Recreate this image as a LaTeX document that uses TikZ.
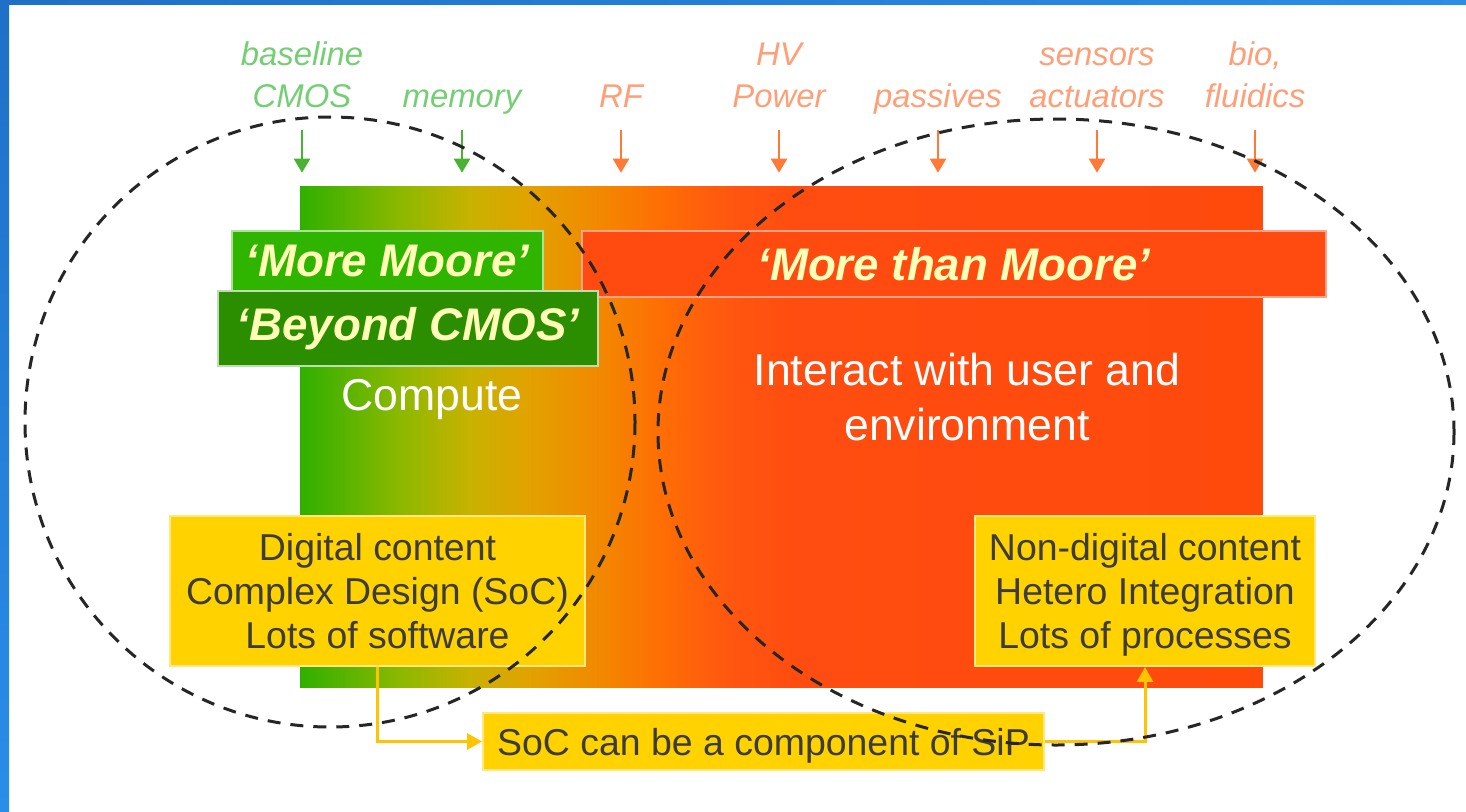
\documentclass[tikz,border=0pt]{standalone}
\usepackage{fontspec}
\setmainfont{Liberation Sans}
\usetikzlibrary{arrows.meta}
\definecolor{framebl}{HTML}{2A8DE8}
\definecolor{framedk}{HTML}{1F70C6}
\definecolor{g0}{HTML}{30B000}
\definecolor{g1}{HTML}{8CB800}
\definecolor{g2}{HTML}{C8B200}
\definecolor{g3}{HTML}{E2A200}
\definecolor{g4}{HTML}{F28800}
\definecolor{g5}{HTML}{FF6E04}
\definecolor{g6}{HTML}{FF5610}
\definecolor{g7}{HTML}{FF4C10}
\definecolor{g8}{HTML}{FF4A0C}
\definecolor{mmgreen}{HTML}{2FB400}
\definecolor{bcgreen}{HTML}{2A8E00}
\definecolor{mtmred}{HTML}{FF4A10}
\definecolor{cream}{HTML}{FFFFB8}
\definecolor{boxgold}{HTML}{FFD200}
\definecolor{txtgrey}{HTML}{3C3C3C}
\definecolor{lblgreen}{HTML}{74CF74}
\definecolor{lblorange}{HTML}{FF9F78}
\definecolor{tipgreen}{HTML}{48B232}
\definecolor{tiporange}{HTML}{FF7A36}
\definecolor{linkgold}{HTML}{FFC400}
\pgfdeclarehorizontalshading{mooreshade}{100bp}{color(0bp)=(g0); color(25bp)=(g0);
  color(30.2bp)=(g1); color(33.8bp)=(g2); color(36.9bp)=(g3); color(40.6bp)=(g4);
  color(43.7bp)=(g5); color(47.3bp)=(g6); color(51bp)=(g7); color(75bp)=(g8);
  color(100bp)=(g8)}
\tikzset{
  lbl/.style = {font=\fontsize{18.7}{23.8}\selectfont\itshape, align=center,
    inner sep=0pt, text depth=0pt, anchor=south},
  lbl_g/.style = {lbl, text=lblgreen},% tech label, green
  lbl_o/.style = {lbl, text=lblorange},% tech label, orange
  tip/.style = {-{Triangle[length=0.28cm,width=0.32cm]}, line width=0.05cm,
    shorten <=0.44cm, shorten >=0.26cm},
  tip_g/.style = {tip, color=tipgreen},
  tip_o/.style = {tip, color=tiporange},
  bar_n/.style = {rectangle, inner sep=0pt, minimum width=19.26cm,
    minimum height=10.04cm, shade, shading=mooreshade},% the big band
  tag/.style = {rectangle, inner sep=0pt, line width=0.04cm, text=cream,
    font=\fontsize{26}{30}\selectfont\bfseries\itshape},
  mm_box/.style = {tag, fill=mmgreen, draw=mmgreen!40!white,
    minimum width=6.22cm, minimum height=1.2cm},
  bc_box/.style = {tag, fill=bcgreen, draw=bcgreen!30!white,
    minimum width=7.6cm, minimum height=1.5cm},
  mtm_box/.style = {tag, fill=mtmred, draw=mtmred!50!white,
    minimum width=14.88cm, minimum height=1.34cm},
  txt_w/.style = {text=white, align=center, inner sep=0pt,
    font=\fontsize{25.4}{31.2}\selectfont},
  yl_box/.style = {rectangle, fill=boxgold, draw=boxgold!50!white,
    line width=0.04cm, text=txtgrey, align=center, inner sep=0pt,
    text depth=0pt, font=\fontsize{21.3}{25.2}\selectfont},
  link/.style = {draw=linkgold, line width=0.06cm,
    -{Triangle[length=0.3cm,width=0.32cm]}},
  venn/.style = {draw=black!85, line width=0.06cm,
    dash pattern=on 0.26cm off 0.2cm}
}
\begin{document}
\begin{tikzpicture}[x=0.02cm,y=-0.02cm]
\useasboundingbox (0,0) rectangle (1466,811);
\shade[top color=framedk, bottom color=framebl] (0,0) rectangle (9,811);
\shade[left color=framedk, right color=framebl] (0,0) rectangle (1466,5);

\node [bar_n] (bar) at (781.5,437) {};

\node [lbl_g] (cmos) at (302,108) {baseline\\CMOS};
\node [lbl_g] (mem) at (462,108) {memory};
\node [lbl_o] (rf) at (621,108) {RF};
\node [lbl_o] (hv) at (779,108) {HV\\Power};
\node [lbl_o] (pas) at (938,108) {passives};
\node [lbl_o] (sens) at (1097,108) {sensors\\actuators};
\node [lbl_o] (bio) at (1255,108) {bio,\\fluidics};
\draw [tip_g] (cmos.south) -- (cmos.south |- bar.north);
\draw [tip_g] (mem.south) -- (mem.south |- bar.north);
\draw [tip_o] (rf.south) -- (rf.south |- bar.north);
\draw [tip_o] (hv.south) -- (hv.south |- bar.north);
\draw [tip_o] (pas.south) -- (pas.south |- bar.north);
\draw [tip_o] (sens.south) -- (sens.south |- bar.north);
\draw [tip_o] (bio.south) -- (bio.south |- bar.north);

\node [mtm_box] (mtm) at (954,264) {‘More than Moore’};
\node [mm_box] (mm) at (387.5,261) {‘More Moore’};
\node [bc_box] (bc) at (408,328.5) {‘Beyond CMOS’};
\node [txt_w] (comp) at (432,400) {Compute};
\node [txt_w] (inter) at (967,397) {Interact with user and\\environment};

\node [yl_box, minimum width=8.3cm, minimum height=3cm] (dig) at (377.5,591)
  {Digital content\\Complex Design (SoC)\\Lots of software};
\node [yl_box, minimum width=6.8cm, minimum height=3cm] (nondig) at (1145,591)
  {Non-digital content\\Hetero Integration\\Lots of processes};
\node [yl_box, minimum width=11.22cm, minimum height=1.14cm] (sip) at (763.5,741.5)
  {SoC can be a component of SiP};
\draw [link] (dig.south) |- (sip.west);
\draw [link] (sip.east) -| (nondig.south);

% the two worlds
\draw [venn] (330,422) ellipse [x radius=305, y radius=305];
\draw [venn] (1056,432) ellipse [x radius=398, y radius=313];
\end{tikzpicture}
\end{document}
